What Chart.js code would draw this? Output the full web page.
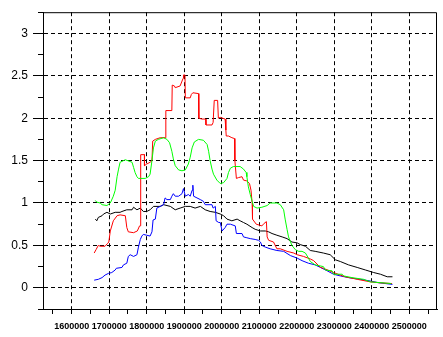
<!DOCTYPE html>
<html>
<head>
<meta charset="utf-8">
<script src="https://cdn.jsdelivr.net/npm/chart.js@4.4.0/dist/chart.umd.js"></script>
<style>
html, body { margin: 0; padding: 0; background: #fff; }
#wrap { width: 443px; height: 337px; position: relative; }
</style>
</head>
<body>
<div id="wrap"><canvas id="c"></canvas></div>
<script>
// x values in thousands
const redX = [1660,1665,1671,1676,1689,1695,1699,1703,1711,1721,1729,1743,1747,1751,1765,1775,1781,1783,1784,1794,1794,1800,1809,1814,1816,1823,1836,1849,1851,1867,1868,1874,1876,1889,1897,1898,1902,1903,1916,1919,1923,1938,1939,1947,1957,1958,1974,1977,1980,1989,1991,1996,2009,2011,2012,2018,2027,2034,2035,2039,2045,2054,2058,2067,2074,2078,2081,2082,2092,2107,2113,2119,2121,2125,2138,2147,2156,2174,2192,2201,2218,2236,2245,2263,2271,2298,2316,2329,2361,2396,2418,2454];
const redY = [0.41,0.45,0.50,0.49,0.49,0.52,0.54,0.67,0.79,0.85,0.86,0.85,0.71,0.66,0.65,0.67,0.73,0.73,1.57,1.57,1.44,1.46,1.48,1.50,1.73,1.75,1.77,1.77,2.09,2.09,2.39,2.38,2.36,2.38,2.47,2.51,2.51,2.24,2.24,2.28,2.30,2.29,2.00,1.99,1.99,1.92,1.92,1.95,2.21,2.21,2.00,2.01,1.99,1.86,1.79,1.79,1.77,1.76,1.50,1.29,1.30,1.31,1.27,1.26,1.23,1.15,1.00,0.81,0.75,0.73,0.76,0.78,0.60,0.56,0.54,0.46,0.46,0.43,0.41,0.39,0.37,0.34,0.32,0.24,0.23,0.18,0.15,0.13,0.10,0.07,0.06,0.05];

const greenX = [1663,1667,1676,1681,1694,1703,1711,1716,1721,1725,1729,1743,1761,1765,1769,1774,1778,1796,1805,1809,1814,1818,1823,1831,1845,1854,1861,1867,1871,1876,1885,1894,1903,1911,1916,1921,1927,1938,1951,1961,1965,1969,1974,1978,1987,1996,2005,2014,2018,2023,2031,2049,2058,2065,2067,2071,2076,2081,2085,2094,2107,2121,2129,2147,2156,2165,2169,2174,2178,2187,2196,2205,2214,2223,2231,2236,2249,2271,2276,2294,2298,2321,2325,2347,2378,2396,2452];
const greenY = [1.03,1.01,1.00,0.98,0.97,1.00,1.08,1.15,1.31,1.40,1.48,1.51,1.48,1.42,1.36,1.31,1.29,1.29,1.31,1.34,1.50,1.65,1.73,1.75,1.77,1.75,1.71,1.61,1.52,1.44,1.39,1.38,1.39,1.46,1.54,1.65,1.72,1.75,1.74,1.69,1.61,1.50,1.40,1.34,1.27,1.23,1.24,1.29,1.36,1.41,1.43,1.43,1.40,1.36,1.31,1.19,1.10,1.02,0.96,0.94,0.95,0.97,1.00,1.00,0.98,0.92,0.81,0.69,0.60,0.50,0.45,0.43,0.43,0.41,0.35,0.31,0.27,0.25,0.21,0.20,0.16,0.16,0.14,0.12,0.10,0.07,0.05];

const blueX = [1660,1671,1681,1689,1698,1707,1716,1719,1734,1738,1747,1751,1756,1765,1774,1778,1783,1787,1791,1800,1809,1814,1817,1823,1827,1836,1845,1849,1854,1863,1867,1871,1876,1885,1894,1898,1903,1911,1916,1921,1923,1925,1934,1943,1951,1956,1974,1977,1983,1985,1992,1996,2001,2009,2014,2023,2036,2039,2054,2058,2067,2076,2089,2098,2103,2107,2116,2129,2147,2165,2183,2201,2214,2231,2249,2263,2281,2298,2316,2338,2369,2396,2418,2455];
const blueY = [0.09,0.10,0.12,0.15,0.17,0.18,0.21,0.23,0.24,0.27,0.29,0.37,0.39,0.37,0.39,0.48,0.57,0.61,0.63,0.62,0.61,0.66,0.80,0.81,0.94,0.96,0.98,1.06,1.04,1.04,1.08,1.11,1.08,1.08,1.11,1.17,1.08,1.10,1.08,1.15,1.21,1.08,1.06,1.04,1.02,0.98,0.98,0.94,0.96,0.79,0.77,0.77,0.67,0.71,0.75,0.75,0.73,0.64,0.64,0.60,0.59,0.58,0.57,0.56,0.54,0.50,0.48,0.46,0.44,0.43,0.38,0.35,0.32,0.29,0.27,0.24,0.20,0.16,0.14,0.12,0.10,0.08,0.06,0.04];

const blackX = [1663,1667,1671,1681,1685,1694,1703,1716,1729,1734,1747,1761,1765,1774,1783,1791,1800,1809,1818,1836,1845,1863,1876,1889,1903,1916,1929,1943,1956,1969,1983,1996,2005,2014,2027,2041,2049,2058,2067,2081,2089,2103,2116,2125,2134,2147,2161,2174,2187,2201,2209,2223,2236,2249,2271,2289,2303,2316,2338,2361,2383,2405,2423,2441,2455];
const blackY = [0.81,0.79,0.83,0.85,0.87,0.89,0.87,0.89,0.89,0.90,0.92,0.92,0.95,0.92,0.94,0.90,0.90,0.92,0.96,0.96,0.98,0.96,0.92,0.94,0.96,0.96,0.94,0.96,0.92,0.90,0.89,0.87,0.85,0.81,0.79,0.81,0.79,0.77,0.75,0.71,0.69,0.67,0.67,0.66,0.64,0.62,0.60,0.58,0.54,0.53,0.51,0.49,0.44,0.43,0.41,0.39,0.33,0.31,0.27,0.24,0.21,0.18,0.16,0.13,0.13];

// every tick on the x axis (labelled ones + the half steps between them)
const xTicks = [1550000,1600000,1650000,1700000,1750000,1800000,1850000,1900000,1950000,2000000,2050000,2100000,2150000,2200000,2250000,2300000,2350000,2400000,2450000,2500000,2550000];
const xLabels = [1600000,1700000,1800000,1900000,2000000,2100000,2200000,2300000,2400000,2500000];
const yLabels = [0, 0.5, 1, 1.5, 2, 2.5, 3];

const isXMajor = (v) => xLabels.includes(v);
const isYMajor = (v) => yLabels.some((l) => Math.abs(l - v) < 1e-6);

function pts(xs, ys) { return xs.map((x, i) => ({ x: x * 1000, y: ys[i] })); }
function series(label, color, xs, ys, order) {
    return { label, data: pts(xs, ys), borderColor: color, borderWidth: 1, pointRadius: 0, fill: false, tension: 0, order };
}

// top/right frame + short minor ticks on the y axis
const frame = {
    id: 'frame',
    afterDraw(chart) {
        const { ctx, chartArea: a, scales: { y } } = chart;
        ctx.save();
        ctx.strokeStyle = '#000';
        ctx.lineWidth = 1;
        ctx.beginPath();
        ctx.moveTo(a.left, a.top + 0.5);
        ctx.lineTo(a.right - 0.5, a.top + 0.5);
        ctx.lineTo(a.right - 0.5, a.bottom);
        y.ticks.forEach((t) => {
            if (isYMajor(t.value)) return;
            const py = Math.round(y.getPixelForValue(t.value) - 0.5) + 0.5;
            ctx.moveTo(a.left - 5, py);
            ctx.lineTo(a.left, py);
        });
        ctx.stroke();
        ctx.restore();
    }
};

new Chart(document.getElementById('c'), {
    type: 'line',
    data: {
        datasets: [
            series('red', '#ff0000', redX, redY, 1),
            series('green', '#00ff00', greenX, greenY, 0),
            series('blue', '#0000ff', blueX, blueY, 2),
            series('black', '#000000', blackX, blackY, 3),
        ]
    },
    options: {
        responsive: true, maintainAspectRatio: false, animation: false,
        devicePixelRatio: 1,
        layout: { padding: { top: 5, right: 6, left: 0, bottom: 0 } },
        plugins: { legend: { display: false }, tooltip: { enabled: false } },
        scales: {
            x: {
                type: 'linear', min: 1523600, max: 2573700,
                afterFit: (s) => { s.height = 28; },
                afterBuildTicks: (s) => { s.ticks = xTicks.map((v) => ({ value: v })); },
                border: { color: '#000', width: 1, dash: [4, 3] },
                grid: {
                    color: (c) => isXMajor(c.tick.value) ? '#000' : 'rgba(0,0,0,0)',
                    tickColor: '#000', tickLength: 5, tickBorderDash: [],
                },
                ticks: {
                    autoSkip: false, maxRotation: 0,
                    color: '#000', padding: 7,
                    font: { family: 'Liberation Sans', size: 9, weight: 'bold' },
                    callback: (v) => isXMajor(v) ? String(v) : '',
                },
            },
            y: {
                min: -0.25, max: 3.25,
                afterFit: (s) => { s.width = 43; },
                border: { color: '#000', width: 1, dash: [4, 3] },
                grid: {
                    color: (c) => (isYMajor(c.tick.value) ? '#000' : 'rgba(0,0,0,0)'),
                    tickColor: (c) => (isYMajor(c.tick.value) ? '#000' : 'rgba(0,0,0,0)'),
                    tickLength: 10, tickBorderDash: [],
                },
                ticks: {
                    stepSize: 0.25, autoSkip: false, color: '#000', padding: 5,
                    font: { family: 'Liberation Sans', size: 12 },
                    callback: (v) => isYMajor(v) ? String(v) : '',
                },
            },
        },
    },
    plugins: [frame],
});
</script>
</body>
</html>
